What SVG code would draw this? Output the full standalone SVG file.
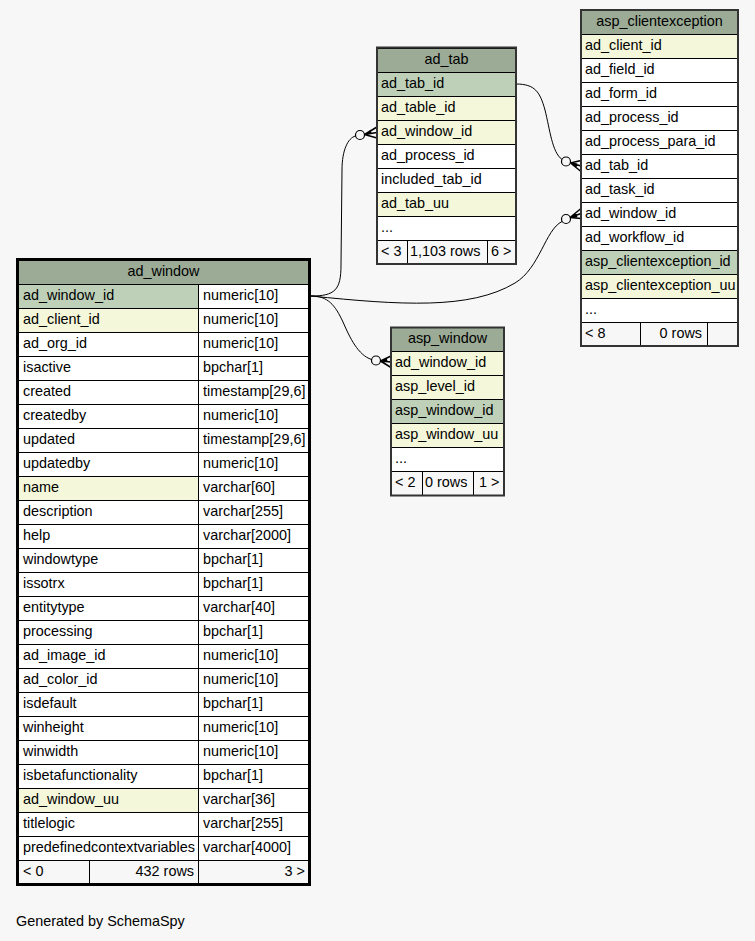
<svg xmlns="http://www.w3.org/2000/svg" width="755" height="941" viewBox="0 0 755 941">
<style>
rect.c{stroke:#000;stroke-width:1;shape-rendering:crispEdges}
.h{fill:#9bab96}.pk{fill:#bed1b8}.ix{fill:#f4f7da}.w{fill:#ffffff}.f{fill:#f7f7f7}
text{font-family:"Liberation Sans",Arial,sans-serif;font-size:14.4px;fill:#000}
.m{text-anchor:middle}.e{text-anchor:end}
.edge{fill:none;stroke:#000;stroke-width:1}
.crow{fill:#000;stroke:#000;stroke-width:1.5;stroke-linejoin:miter}
.odot{fill:none;stroke:#000;stroke-width:1.2}
</style>
<rect x="0" y="0" width="755" height="941" fill="#f7f7f7"/>

<g id="connectors">
<path class="edge" d="M311,296 C335,296 341,290 341,265 L342,170 C342,150 348,138 355.5,136"/>
<circle class="odot" cx="360" cy="135" r="4.5"/>
<path class="crow" d="M364.5,134.5 L377,127 M364.5,134.5 L377,132.5 M364.5,134.5 L377,138 M365,134.5 L371,133.5 L370,131 Z"/>
<path class="edge" d="M311,296 C328,296 335,305 343,322 C350,338 358,355 371.5,359.5"/>
<circle class="odot" cx="376" cy="360.5" r="4.5"/>
<path class="crow" d="M380.5,361 L391,356 M380.5,361 L391,362 M380.5,361 L391,367.5 M381,361 L387,361.5 L386,359 Z"/>
<path class="edge" d="M311,296 C400,305 470,310 515,283 C540,268 545,230 562,221.5"/>
<circle class="odot" cx="566" cy="219" r="4.5"/>
<path class="crow" d="M570,217.5 L581,208.5 M570,217.5 L581,213.5 M570,217.5 L581,218.5 M571,217 L576,214 L576.5,216.5 Z"/>
<path class="edge" d="M516,84 C535,84 540,92 545,110 C550,130 552,152 562,159.5"/>
<circle class="odot" cx="566" cy="161.5" r="4.5"/>
<path class="crow" d="M570.5,163 L581,160.5 M570.5,163 L581,166 M570.5,163 L581,171.5 M571,163 L576.5,164 L576,166.5 Z"/>
</g>

<g id="ad_tab">
<rect class="c h" x="377" y="48" width="139" height="24"/>
<rect class="c pk" x="377" y="72" width="139" height="24"/>
<rect class="c ix" x="377" y="96" width="139" height="24"/>
<rect class="c ix" x="377" y="120" width="139" height="24"/>
<rect class="c w" x="377" y="144" width="139" height="24"/>
<rect class="c w" x="377" y="168" width="139" height="24"/>
<rect class="c ix" x="377" y="192" width="139" height="24"/>
<rect class="c w" x="377" y="216" width="139" height="24"/>
<rect class="c f" x="377" y="240" width="30" height="24"/>
<rect class="c f" x="407" y="240" width="80" height="24"/>
<rect class="c f" x="487" y="240" width="29" height="24"/>
<rect x="377" y="47.5" width="139" height="216.5" fill="none" stroke="#333" stroke-width="2"/>
<text class="m" x="446.5" y="64">ad_tab</text>
<text x="381" y="88">ad_tab_id</text>
<text x="381" y="112">ad_table_id</text>
<text x="381" y="136">ad_window_id</text>
<text x="381" y="160">ad_process_id</text>
<text x="381" y="184">included_tab_id</text>
<text x="381" y="208">ad_tab_uu</text>
<text x="381" y="232">...</text>
<text x="381" y="256">&lt; 3</text>
<text x="410" y="256">1,103 rows</text>
<text x="491" y="256">6 &gt;</text>
</g>

<g id="asp_clientexception">
<rect class="c h" x="581" y="10" width="157" height="24"/>
<rect class="c ix" x="581" y="34" width="157" height="24"/>
<rect class="c w" x="581" y="58" width="157" height="24"/>
<rect class="c w" x="581" y="82" width="157" height="24"/>
<rect class="c w" x="581" y="106" width="157" height="24"/>
<rect class="c w" x="581" y="130" width="157" height="24"/>
<rect class="c w" x="581" y="154" width="157" height="24"/>
<rect class="c w" x="581" y="178" width="157" height="24"/>
<rect class="c w" x="581" y="202" width="157" height="24"/>
<rect class="c w" x="581" y="226" width="157" height="24"/>
<rect class="c pk" x="581" y="250" width="157" height="24"/>
<rect class="c ix" x="581" y="274" width="157" height="24"/>
<rect class="c w" x="581" y="298" width="157" height="24"/>
<rect class="c f" x="581" y="322" width="59" height="24"/>
<rect class="c f" x="640" y="322" width="67" height="24"/>
<rect class="c f" x="707" y="322" width="31" height="24"/>
<rect x="581" y="10" width="157" height="336" fill="none" stroke="#333" stroke-width="2"/>
<text class="m" x="659.5" y="26">asp_clientexception</text>
<text x="585" y="50">ad_client_id</text>
<text x="585" y="74">ad_field_id</text>
<text x="585" y="98">ad_form_id</text>
<text x="585" y="122">ad_process_id</text>
<text x="585" y="146">ad_process_para_id</text>
<text x="585" y="170">ad_tab_id</text>
<text x="585" y="194">ad_task_id</text>
<text x="585" y="218">ad_window_id</text>
<text x="585" y="242">ad_workflow_id</text>
<text x="585" y="266">asp_clientexception_id</text>
<text x="585" y="290">asp_clientexception_uu</text>
<text x="585" y="314">...</text>
<text x="585" y="338">&lt; 8</text>
<text class="e" x="702" y="338">0 rows</text>
</g>

<g id="asp_window">
<rect class="c h" x="391" y="327" width="113" height="24"/>
<rect class="c ix" x="391" y="351" width="113" height="24"/>
<rect class="c ix" x="391" y="375" width="113" height="24"/>
<rect class="c pk" x="391" y="399" width="113" height="24"/>
<rect class="c ix" x="391" y="423" width="113" height="24"/>
<rect class="c w" x="391" y="447" width="113" height="24"/>
<rect class="c f" x="391" y="471" width="31" height="24"/>
<rect class="c f" x="422" y="471" width="51" height="24"/>
<rect class="c f" x="473" y="471" width="31" height="24"/>
<rect x="391" y="327.5" width="113" height="168" fill="none" stroke="#333" stroke-width="2"/>
<text class="m" x="447.5" y="343">asp_window</text>
<text x="395" y="367">ad_window_id</text>
<text x="395" y="391">asp_level_id</text>
<text x="395" y="415">asp_window_id</text>
<text x="395" y="439">asp_window_uu</text>
<text x="395" y="463">...</text>
<text x="395" y="487">&lt; 2</text>
<text x="425" y="487">0 rows</text>
<text x="479" y="487">1 &gt;</text>
</g>

<g id="ad_window">
<rect class="c h" x="18" y="260" width="291" height="24"/>
<rect class="c pk" x="18" y="284" width="180" height="24"/><rect class="c w" x="198" y="284" width="111" height="24"/>
<rect class="c ix" x="18" y="308" width="180" height="24"/><rect class="c w" x="198" y="308" width="111" height="24"/>
<rect class="c w" x="18" y="332" width="180" height="24"/><rect class="c w" x="198" y="332" width="111" height="24"/>
<rect class="c w" x="18" y="356" width="180" height="24"/><rect class="c w" x="198" y="356" width="111" height="24"/>
<rect class="c w" x="18" y="380" width="180" height="24"/><rect class="c w" x="198" y="380" width="111" height="24"/>
<rect class="c w" x="18" y="404" width="180" height="24"/><rect class="c w" x="198" y="404" width="111" height="24"/>
<rect class="c w" x="18" y="428" width="180" height="24"/><rect class="c w" x="198" y="428" width="111" height="24"/>
<rect class="c w" x="18" y="452" width="180" height="24"/><rect class="c w" x="198" y="452" width="111" height="24"/>
<rect class="c ix" x="18" y="476" width="180" height="24"/><rect class="c w" x="198" y="476" width="111" height="24"/>
<rect class="c w" x="18" y="500" width="180" height="24"/><rect class="c w" x="198" y="500" width="111" height="24"/>
<rect class="c w" x="18" y="524" width="180" height="24"/><rect class="c w" x="198" y="524" width="111" height="24"/>
<rect class="c w" x="18" y="548" width="180" height="24"/><rect class="c w" x="198" y="548" width="111" height="24"/>
<rect class="c w" x="18" y="572" width="180" height="24"/><rect class="c w" x="198" y="572" width="111" height="24"/>
<rect class="c w" x="18" y="596" width="180" height="24"/><rect class="c w" x="198" y="596" width="111" height="24"/>
<rect class="c w" x="18" y="620" width="180" height="24"/><rect class="c w" x="198" y="620" width="111" height="24"/>
<rect class="c w" x="18" y="644" width="180" height="24"/><rect class="c w" x="198" y="644" width="111" height="24"/>
<rect class="c w" x="18" y="668" width="180" height="24"/><rect class="c w" x="198" y="668" width="111" height="24"/>
<rect class="c w" x="18" y="692" width="180" height="24"/><rect class="c w" x="198" y="692" width="111" height="24"/>
<rect class="c w" x="18" y="716" width="180" height="24"/><rect class="c w" x="198" y="716" width="111" height="24"/>
<rect class="c w" x="18" y="740" width="180" height="24"/><rect class="c w" x="198" y="740" width="111" height="24"/>
<rect class="c w" x="18" y="764" width="180" height="24"/><rect class="c w" x="198" y="764" width="111" height="24"/>
<rect class="c ix" x="18" y="788" width="180" height="24"/><rect class="c w" x="198" y="788" width="111" height="24"/>
<rect class="c w" x="18" y="812" width="180" height="24"/><rect class="c w" x="198" y="812" width="111" height="24"/>
<rect class="c w" x="18" y="836" width="180" height="24"/><rect class="c w" x="198" y="836" width="111" height="24"/>
<rect class="c f" x="18" y="860" width="71" height="24"/><rect class="c f" x="89" y="860" width="109" height="24"/><rect class="c f" x="198" y="860" width="111" height="24"/>
<rect x="17.5" y="259.5" width="292" height="625" fill="none" stroke="#000" stroke-width="3"/>
<text class="m" x="163.5" y="276">ad_window</text>
<text x="23" y="300">ad_window_id</text><text x="203" y="300">numeric[10]</text>
<text x="23" y="324">ad_client_id</text><text x="203" y="324">numeric[10]</text>
<text x="23" y="348">ad_org_id</text><text x="203" y="348">numeric[10]</text>
<text x="23" y="372">isactive</text><text x="203" y="372">bpchar[1]</text>
<text x="23" y="396">created</text><text x="203" y="396">timestamp[29,6]</text>
<text x="23" y="420">createdby</text><text x="203" y="420">numeric[10]</text>
<text x="23" y="444">updated</text><text x="203" y="444">timestamp[29,6]</text>
<text x="23" y="468">updatedby</text><text x="203" y="468">numeric[10]</text>
<text x="23" y="492">name</text><text x="203" y="492">varchar[60]</text>
<text x="23" y="516">description</text><text x="203" y="516">varchar[255]</text>
<text x="23" y="540">help</text><text x="203" y="540">varchar[2000]</text>
<text x="23" y="564">windowtype</text><text x="203" y="564">bpchar[1]</text>
<text x="23" y="588">issotrx</text><text x="203" y="588">bpchar[1]</text>
<text x="23" y="612">entitytype</text><text x="203" y="612">varchar[40]</text>
<text x="23" y="636">processing</text><text x="203" y="636">bpchar[1]</text>
<text x="23" y="660">ad_image_id</text><text x="203" y="660">numeric[10]</text>
<text x="23" y="684">ad_color_id</text><text x="203" y="684">numeric[10]</text>
<text x="23" y="708">isdefault</text><text x="203" y="708">bpchar[1]</text>
<text x="23" y="732">winheight</text><text x="203" y="732">numeric[10]</text>
<text x="23" y="756">winwidth</text><text x="203" y="756">numeric[10]</text>
<text x="23" y="780">isbetafunctionality</text><text x="203" y="780">bpchar[1]</text>
<text x="23" y="804">ad_window_uu</text><text x="203" y="804">varchar[36]</text>
<text x="23" y="828">titlelogic</text><text x="203" y="828">varchar[255]</text>
<text x="23" y="852">predefinedcontextvariables</text><text x="203" y="852">varchar[4000]</text>
<text x="23" y="876">&lt; 0</text><text class="e" x="194" y="876">432 rows</text><text class="e" x="305" y="876">3 &gt;</text>
</g>

<text x="16" y="926">Generated by SchemaSpy</text>
</svg>
